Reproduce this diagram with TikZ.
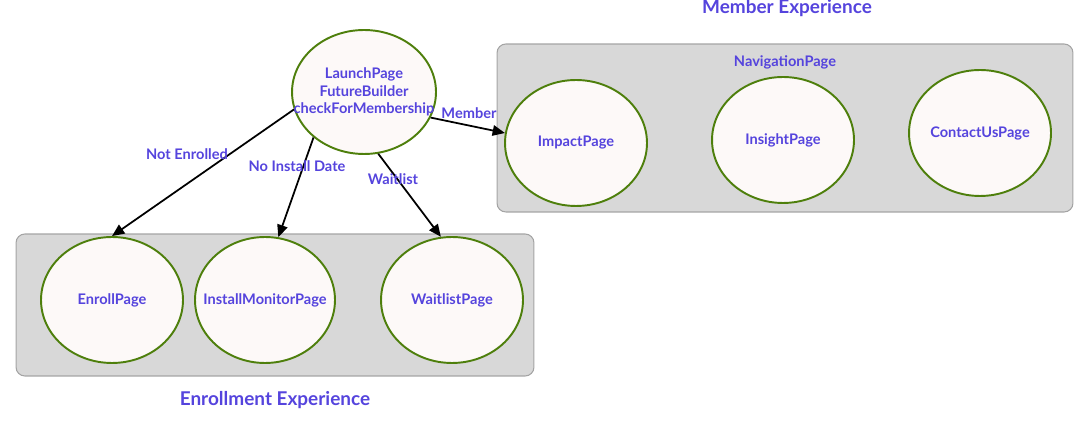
\documentclass[tikz,border=0pt]{standalone}
\usepackage{fontspec}
\setmainfont{Lato}
\usetikzlibrary{shapes.geometric, arrows.meta}
\definecolor{txtblue}{HTML}{5544DD}
\definecolor{pagegreen}{HTML}{4E7F0C}
\definecolor{pagefill}{HTML}{FDF9F8}
\definecolor{panelgray}{HTML}{D8D8D8}
\definecolor{panelline}{HTML}{A4A4A4}
\tikzset{
  page/.style={ellipse, draw=pagegreen, fill=pagefill, line width=1.1pt,
    minimum width=2.84cm, minimum height=2.52cm, inner xsep=-32pt, inner ysep=-4pt,
    text=txtblue, font=\bfseries\fontsize{8.3}{9.8}\selectfont, align=center},
  panel/.style={rectangle, rounded corners=5pt, draw=panelline, fill=panelgray, line width=0.6pt},
  title/.style={text=txtblue, font=\bfseries\fontsize{10.8}{12}\selectfont},
  lbl/.style={text=txtblue, font=\bfseries\fontsize{8.3}{9.8}\selectfont},
  route/.style={-{Triangle[length=7pt,width=6pt]}, line width=1pt, black}
}
\begin{document}
\begin{tikzpicture}[x=0.02cm, y=-0.02cm]
\useasboundingbox (0,0) rectangle (1087,421);
\draw
    (785,128) node[panel, minimum width=11.52cm, minimum height=3.36cm] (memberbox) {}
    (275,305) node[panel, minimum width=10.36cm, minimum height=2.84cm] (enrollbox) {}
    (787,8)   node[title] (membertitle) {Member Experience}
    (275,400) node[title] (enrolltitle) {Enrollment Experience}
    (785,62)  node[lbl] (nav) {NavigationPage}
    (364,92)  node[page, minimum width=2.88cm, minimum height=2.48cm, inner xsep=-36pt, inner ysep=-13pt] (launch) {LaunchPage\\FutureBuilder\\checkForMembership}
    (576,143) node[page] (impact) {ImpactPage}
    (783,140) node[page] (insight) {InsightPage}
    (980,133) node[page] (contact) {ContactUsPage}
    (112,300) node[page] (enroll) {EnrollPage}
    (265,300) node[page, minimum width=2.8cm] (install) {InstallMonitorPage}
    (452,300) node[page] (waitlist) {WaitlistPage};
% routes out of the launch page
\draw[route] (launch.194) -- (enroll.north);
\draw[route] (launch.222) -- (install.78);
\draw[route] (launch.283) -- (waitlist.100);
\draw[route] (launch.339) -- (impact.172);
% route labels
\draw
    (187,154) node[lbl] (lnot) {Not Enrolled}
    (297,166) node[lbl] (lnoinst) {No Install Date}
    (393,179) node[lbl] (lwait) {Waitlist}
    (469,113) node[lbl] (lmember) {Member};
\end{tikzpicture}
\end{document}
